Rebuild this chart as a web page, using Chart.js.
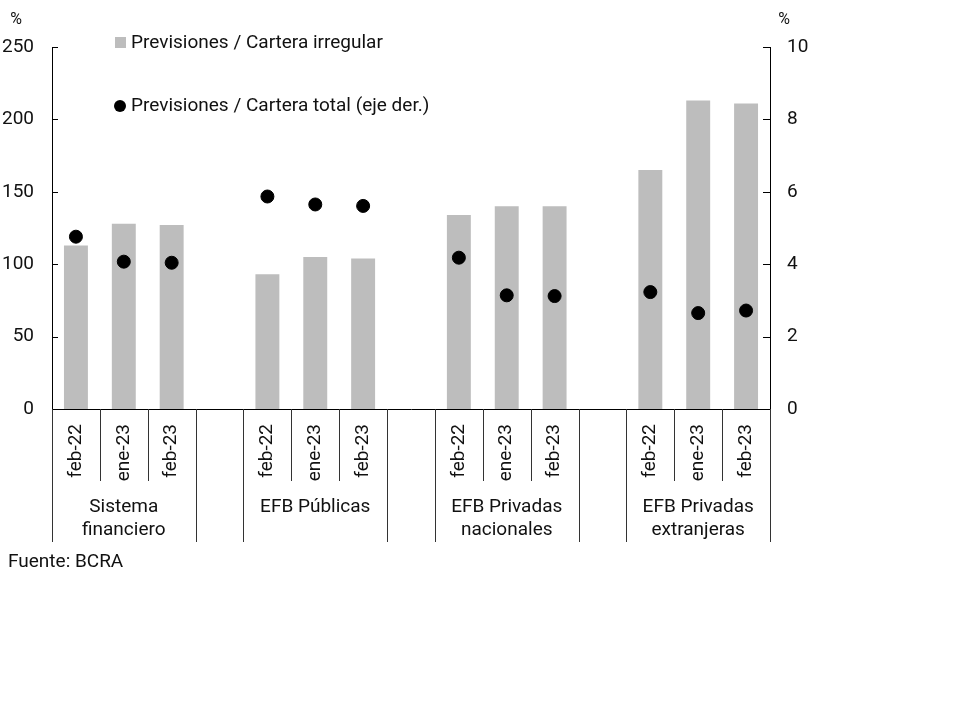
<!DOCTYPE html>
<html>
<head>
<meta charset="utf-8">
<script src="https://cdn.jsdelivr.net/npm/chart.js@4"></script>
<style>
    body { margin: 0; background: #fff; }
    #wrap { width: 960px; height: 720px; position: relative; }
</style>
</head>
<body>
<div id="wrap"><canvas id="chart"></canvas></div>
<script>
const groups = [
    ["Sistema", "financiero"],
    ["EFB Públicas"],
    ["EFB Privadas", "nacionales"],
    ["EFB Privadas", "extranjeras"]
];

const months = ["feb-22", "ene-23", "feb-23"];

// eje izquierdo, %
const carteraIrregular = [113, 128, 127, 93, 105, 104, 134, 140, 140, 165, 213, 211];

// eje derecho, %
const carteraTotal = [4.76, 4.07, 4.04, 5.87, 5.65, 5.61, 4.18, 3.14, 3.12, 3.23, 2.65, 2.72];

const leftTicks = [0, 50, 100, 150, 200, 250];
const rightTicks = [0, 2, 4, 6, 8, 10];

const FONT = "Roboto";
const SIZE = 19;
const TEXT = "#111";

// one empty slot after each group
const labels = [];
const barData = [];
const dotData = [];
groups.forEach(function (g, gi) {
    months.forEach(function (m, mi) {
        labels.push(m);
        barData.push(carteraIrregular[gi * 3 + mi]);
        dotData.push(carteraTotal[gi * 3 + mi]);
    });
    if (gi < groups.length - 1) {
        labels.push("");
        barData.push(null);
        dotData.push(null);
    }
});

const extras = {
    id: "extras",
    afterDraw: function (chart) {
        const ctx = chart.ctx;
        const x = chart.scales.x;
        const yl = chart.scales.y;
        const yr = chart.scales.y1;
        const area = chart.chartArea;
        const slot = (area.right - area.left) / labels.length;

        ctx.save();
        ctx.strokeStyle = "#000";
        ctx.lineWidth = 1;

        // inward ticks
        leftTicks.forEach(function (v) {
            const py = Math.round(yl.getPixelForValue(v)) + 0.5;
            ctx.beginPath();
            ctx.moveTo(area.left, py);
            ctx.lineTo(area.left + 6, py);
            ctx.stroke();
        });
        rightTicks.forEach(function (v) {
            const py = Math.round(yr.getPixelForValue(v)) + 0.5;
            ctx.beginPath();
            ctx.moveTo(area.right - 7, py);
            ctx.lineTo(area.right, py);
            ctx.stroke();
        });

        // separators under the axis
        ctx.strokeStyle = "#333";
        for (let i = 0; i <= labels.length; i++) {
            const px = Math.round(area.left + i * slot) + 0.5;
            const left = labels[i - 1];
            const right = labels[i];
            const long = i === 0 || i === labels.length || left === "" || right === "";
            ctx.beginPath();
            ctx.moveTo(px, area.bottom);
            ctx.lineTo(px, area.bottom + (long ? 133 : 72));
            ctx.stroke();
        }

        // group names
        ctx.fillStyle = TEXT;
        ctx.font = SIZE + "px " + FONT;
        ctx.textAlign = "center";
        ctx.textBaseline = "middle";
        groups.forEach(function (g, gi) {
            const cx = x.getPixelForValue(gi * 4 + 1);
            g.forEach(function (line, li) {
                ctx.fillText(line, cx, area.bottom + 98 + li * 23);
            });
        });

        // % units
        ctx.font = "16px " + FONT;
        ctx.fillText("%", 16, 20);
        ctx.fillText("%", 784, 20);

        // legend
        ctx.fillStyle = "#bdbdbd";
        ctx.fillRect(115, 37, 11, 11);
        ctx.fillStyle = "#000";
        ctx.beginPath();
        ctx.arc(120, 106, 6, 0, Math.PI * 2);
        ctx.fill();
        ctx.fillStyle = TEXT;
        ctx.font = SIZE + "px " + FONT;
        ctx.textAlign = "left";
        ctx.fillText("Previsiones / Cartera irregular", 131, 43);
        ctx.fillText("Previsiones / Cartera total (eje der.)", 131, 106);

        // source
        ctx.fillText("Fuente: BCRA", 8, 562);
        ctx.restore();
    }
};

new Chart(document.getElementById("chart"), {
    data: {
        labels: labels,
        datasets: [
            {
                type: "line",
                label: "Previsiones / Cartera total (eje der.)",
                data: dotData,
                yAxisID: "y1",
                showLine: false,
                pointRadius: 6.5,
                pointHoverRadius: 6.5,
                pointBackgroundColor: "#000",
                pointBorderColor: "#000",
                order: 0
            },
            {
                type: "bar",
                label: "Previsiones / Cartera irregular",
                data: barData,
                yAxisID: "y",
                backgroundColor: "#bdbdbd",
                barPercentage: 0.5,
                categoryPercentage: 1,
                order: 1
            }
        ]
    },
    options: {
        responsive: true,
        maintainAspectRatio: false,
        animation: false,
        layout: {
            padding: { top: 47, left: 0, right: 0, bottom: 0 }
        },
        plugins: {
            legend: { display: false },
            tooltip: { enabled: false }
        },
        scales: {
            x: {
                grid: { display: false },
                border: { display: true, color: "#000" },
                ticks: {
                    minRotation: 90,
                    maxRotation: 90,
                    autoSkip: false,
                    padding: 7,
                    color: TEXT,
                    font: { family: FONT, size: SIZE }
                },
                afterFit: function (s) { s.height = 311; }
            },
            y: {
                position: "left",
                min: 0,
                max: 250,
                grid: { display: false, drawTicks: false },
                border: { display: true, color: "#000" },
                ticks: {
                    stepSize: 50,
                    padding: 18,
                    color: TEXT,
                    font: { family: FONT, size: SIZE }
                },
                afterFit: function (s) { s.width = 52; }
            },
            y1: {
                position: "right",
                min: 0,
                max: 10,
                grid: { display: false, drawTicks: false },
                border: { display: true, color: "#000" },
                ticks: {
                    stepSize: 2,
                    padding: 17,
                    color: TEXT,
                    font: { family: FONT, size: SIZE }
                },
                afterFit: function (s) { s.width = 190; }
            }
        }
    },
    plugins: [extras]
});
</script>
</body>
</html>
